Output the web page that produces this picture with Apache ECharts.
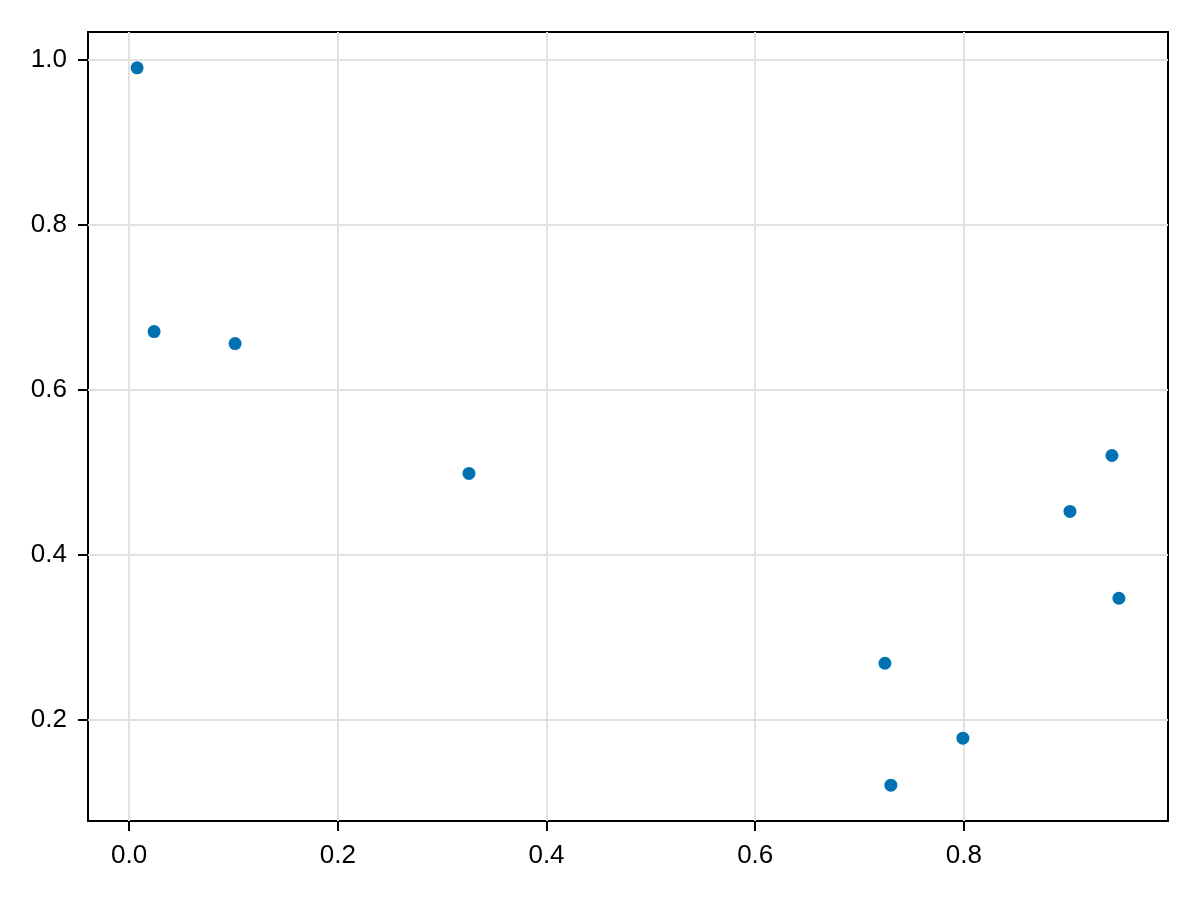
<!DOCTYPE html>
<html>
<head>
<meta charset="utf-8">
<script src="https://cdn.jsdelivr.net/npm/echarts@6/dist/echarts.min.js"></script>
<style>html,body{margin:0;padding:0;background:#fff}#c{width:1200px;height:900px}</style>
</head>
<body>
<div id="c"></div>
<script>
const xValues = [0.0077, 0.024, 0.1016, 0.3257, 0.7243, 0.730, 0.799, 0.9016, 0.9418, 0.9485];
const yValues = [0.9903, 0.6708, 0.6563, 0.4989, 0.269, 0.1213, 0.1782, 0.4529, 0.5207, 0.3477];
const xTicks = [0.0, 0.2, 0.4, 0.6, 0.8];
const yTicks = [0.2, 0.4, 0.6, 0.8, 1.0];

const points = xValues.map((x, i) => [x, yValues[i]]);
const xMin = Math.min(...xValues), xMax = Math.max(...xValues);
const yMin = Math.min(...yValues), yMax = Math.max(...yValues);
const xPad = (xMax - xMin) * 0.05, yPad = (yMax - yMin) * 0.05;

const font = "'Liberation Sans', Arial, sans-serif";
const chart = echarts.init(document.getElementById('c'), null, {renderer: 'canvas'});
chart.setOption({
  animation: false,
  backgroundColor: '#fff',
  grid: {left: 88, right: 32, top: 32, bottom: 79, show: true, borderColor: '#000', borderWidth: 2, backgroundColor: 'transparent'},
  xAxis: {
    type: 'value', min: xMin - xPad, max: xMax + xPad,
    axisLine: {show: false, onZero: false},
    axisTick: {show: true, length: 10, inside: false, customValues: xTicks, lineStyle: {color: '#000', width: 2}},
    axisLabel: {customValues: xTicks, formatter: v => v.toFixed(1), color: '#000', fontSize: 26, fontFamily: font, margin: 22},
    splitLine: {show: true, lineStyle: {color: '#e2e2e2', width: 2}}
  },
  yAxis: {
    type: 'value', min: yMin - yPad, max: yMax + yPad,
    axisLine: {show: false, onZero: false},
    axisTick: {show: true, length: 10, inside: false, customValues: yTicks, lineStyle: {color: '#000', width: 2}},
    axisLabel: {customValues: yTicks, formatter: v => v.toFixed(1), color: '#000', fontSize: 26, fontFamily: font, margin: 21},
    splitLine: {show: true, lineStyle: {color: '#e2e2e2', width: 2}}
  },
  series: [{
    type: 'scatter', data: points, symbol: 'circle', symbolSize: 13,
    itemStyle: {color: '#0072b2', opacity: 1}
  }]
});
</script>
</body>
</html>
